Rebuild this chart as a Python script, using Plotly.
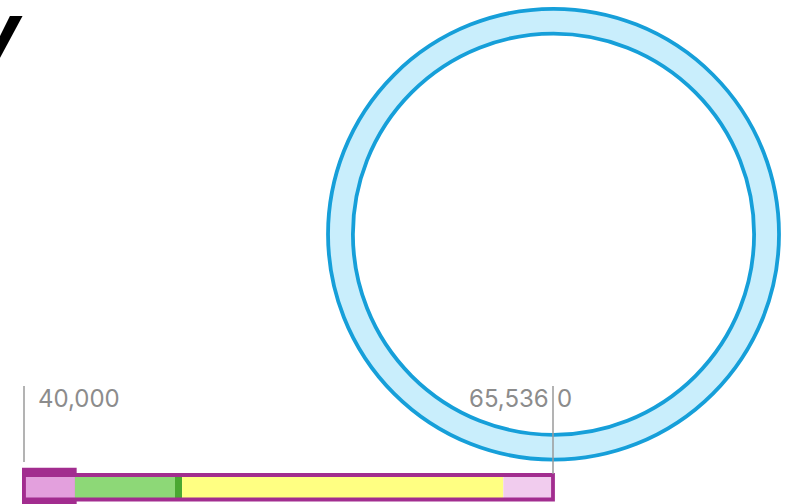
import plotly.graph_objects as go

# ---- data ----
axis_start = 40000
axis_end = 65536
wrap_label = "0"
tick_values = [40000, 65536]
tick_labels = ["40,000", "65,536"]

segment_starts = [40000, 42460, 47290, 47630, 63140]
segment_ends = [42460, 47290, 47630, 63140, 65536]
segment_colors = ["#e3a0dd", "#8dd877", "#4aa832", "#ffff82", "#f1ccee"]
highlight_index = 0

ring_values = [65536]
title_text = "y"

# ---- layout helpers (pixel geometry) ----
W, H = 786, 504
px_left, px_right = 24, 553
upx = (axis_end - axis_start) / (px_right - px_left)
x_range = [axis_start - px_left * upx, axis_start + (W - px_left) * upx]

PURPLE = "#a22d8f"
bar_y = 487.25
bar_h = 24.5

fig = go.Figure()

# highlight block behind the selected segment
hs, he = segment_starts[highlight_index], segment_ends[highlight_index]
fig.add_trace(go.Bar(
    orientation="h", y=[486.4], base=[hs - 2.0 * upx], x=[(he - hs) + 3.7 * upx],
    width=37.5, marker=dict(color=PURPLE, line=dict(width=0)),
    hoverinfo="skip"))

# segments
fig.add_trace(go.Bar(
    orientation="h", y=[bar_y] * len(segment_starts), base=segment_starts,
    x=[e - s for s, e in zip(segment_starts, segment_ends)],
    width=bar_h, marker=dict(color=segment_colors, line=dict(width=0)),
    hoverinfo="skip"))

# outline of whole buffer
fig.add_trace(go.Bar(
    orientation="h", y=[bar_y], base=[axis_start], x=[axis_end - axis_start],
    width=bar_h, marker=dict(color="rgba(0,0,0,0)", line=dict(color=PURPLE, width=3.8)),
    hoverinfo="skip"))

# ring
cx, cy, r_out, r_in = 553.5, 234.2, 225.4, 200.6
fig.add_trace(go.Pie(
    values=ring_values, hole=r_in / r_out, sort=False, textinfo="none",
    marker=dict(colors=["#c9eefc"], line=dict(color="#169fd9", width=3.8)),
    domain=dict(x=[(cx - r_out) / W, (cx + r_out) / W],
                y=[(H - cy - r_out) / H, (H - cy + r_out) / H]),
    hoverinfo="skip", showlegend=False))

# tick lines
tick_y1 = [462, 474]
for v, y1 in zip(tick_values, tick_y1):
    fig.add_shape(type="line", xref="x", yref="y", x0=v, x1=v, y0=386, y1=y1,
                  line=dict(color="#9a9a9a", width=1.5), layer="above")

lab_font = dict(family="Inter", size=24, color="#8c8c8c")
fig.add_annotation(x=tick_values[0], y=398, xref="x", yref="y", text=tick_labels[0],
                   xanchor="left", yanchor="middle", xshift=12, showarrow=False, font=lab_font)
fig.add_annotation(x=tick_values[1], y=398, xref="x", yref="y", text=tick_labels[1],
                   xanchor="right", yanchor="middle", xshift=-2, showarrow=False, font=lab_font)
fig.add_annotation(x=tick_values[1], y=398, xref="x", yref="y", text=wrap_label,
                   xanchor="left", yanchor="middle", xshift=2, showarrow=False, font=lab_font)

# clipped title
fig.add_annotation(x=0, y=1, xref="paper", yref="paper", text=title_text,
                   xanchor="right", yanchor="top", xshift=25, yshift=20, showarrow=False,
                   font=dict(family="Inter", size=80, color="#000000", weight="bold", style="italic"))

fig.update_layout(
    width=W, height=H, margin=dict(l=0, r=0, t=0, b=0),
    paper_bgcolor="white", plot_bgcolor="white",
    barmode="overlay", showlegend=False, hovermode=False,
    xaxis=dict(range=x_range, visible=False, fixedrange=True),
    yaxis=dict(range=[H, 0], visible=False, fixedrange=True),
)

fig.write_html("out.html", config={"displayModeBar": False},
               post_script="document.body.style.margin='0';document.body.style.overflow='hidden';")
